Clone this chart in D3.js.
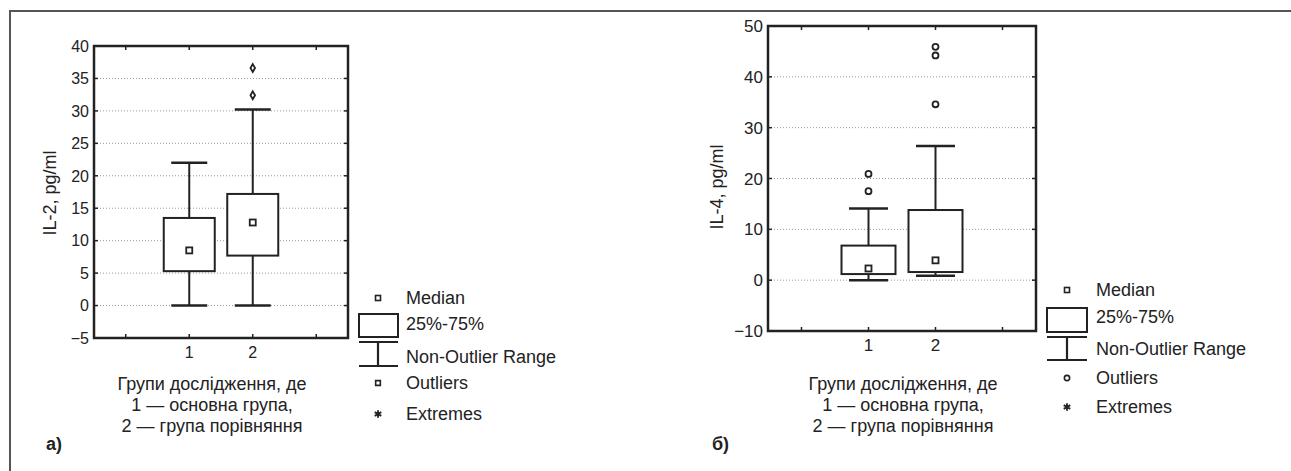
<!DOCTYPE html>
<html>
<head>
<meta charset="utf-8">
<script src="https://cdn.jsdelivr.net/npm/d3@7"></script>
<style>
  body { margin: 0; background: #fff; }
  svg { display: block; }
  .tick-label { font-family: "Liberation Sans", Arial, sans-serif; fill: #222; }
  .narrow { font-family: "Liberation Sans", Arial, sans-serif; fill: #222; }
</style>
</head>
<body>
<svg id="chart" width="1291" height="471"></svg>
<script>
// groups on the x axis
const groups = [1, 2];

// panel a) IL-2
const il2Min = [0, 0];
const il2Q1 = [5.3, 7.7];
const il2Median = [8.5, 12.8];
const il2Q3 = [13.5, 17.2];
const il2Max = [22, 30.2];
const il2Outliers = [[], [32.4, 36.6]];
const il2Ticks = [-5, 0, 5, 10, 15, 20, 25, 30, 35, 40];

// panel б) IL-4
const il4Min = [0, 0.85];
const il4Q1 = [1.2, 1.6];
const il4Median = [2.3, 3.9];
const il4Q3 = [6.8, 13.8];
const il4Max = [14.1, 26.4];
const il4Outliers = [[17.5, 20.9], [34.6, 44.2, 45.9]];
const il4Ticks = [-10, 0, 10, 20, 30, 40, 50];

const legendLabels = ["Median", "25%-75%", "Non-Outlier Range", "Outliers", "Extremes"];
const xTitleLines = ["Групи дослідження, де", "1 — основна група,", "2 — група порівняння"];

const svg = d3.select("#chart");
const ink = "#222";

// outer frame (top + left only)
svg.append("path")
  .attr("d", "M10,471V11H1291")
  .attr("fill", "none")
  .attr("stroke", "#555")
  .attr("stroke-width", 2);

function drawPanel(p) {
  const g = svg.append("g");
  const x = d3.scaleLinear().domain([-0.5, 3.5]).range([p.left, p.right]);
  const y = d3.scaleLinear().domain(p.domain).range([p.bottom, p.top]);
  const xTickPos = [0, 1, 2, 3];

  // dotted grid
  g.selectAll(".grid")
    .data(p.ticks.filter(t => t > p.domain[0] && t < p.domain[1]))
    .enter().append("line")
    .attr("x1", p.left).attr("x2", p.right)
    .attr("y1", d => y(d)).attr("y2", d => y(d))
    .attr("stroke", "#999")
    .attr("stroke-width", 1)
    .attr("stroke-dasharray", "1,2");

  // inner tick marks on all sides
  p.ticks.forEach(t => {
    g.append("line").attr("x1", p.left).attr("x2", p.left + 4)
      .attr("y1", y(t)).attr("y2", y(t)).attr("stroke", ink).attr("stroke-width", 1.5);
    g.append("line").attr("x1", p.right).attr("x2", p.right - 4)
      .attr("y1", y(t)).attr("y2", y(t)).attr("stroke", ink).attr("stroke-width", 1.5);
  });
  xTickPos.forEach(t => {
    g.append("line").attr("x1", x(t)).attr("x2", x(t))
      .attr("y1", p.top).attr("y2", p.top + 4).attr("stroke", ink).attr("stroke-width", 1.5);
    g.append("line").attr("x1", x(t)).attr("x2", x(t))
      .attr("y1", p.bottom).attr("y2", p.bottom - 4).attr("stroke", ink).attr("stroke-width", 1.5);
  });

  // y tick labels
  g.selectAll(".ylab")
    .data(p.ticks)
    .enter().append("text")
    .attr("class", "tick-label")
    .attr("x", p.left - 5)
    .attr("y", d => y(d))
    .attr("dy", "0.36em")
    .attr("text-anchor", "end")
    .style("font-size", p.tickSize + "px")
    .text(d => d < 0 ? "\u2212" + Math.abs(d) : d);

  // x tick labels
  g.selectAll(".xlab")
    .data(groups)
    .enter().append("text")
    .attr("class", "tick-label")
    .attr("x", d => x(d))
    .attr("y", p.bottom + 20)
    .attr("text-anchor", "middle")
    .style("font-size", p.tickSize + "px")
    .text(d => d);

  // y axis title
  g.append("text")
    .attr("class", "tick-label")
    .attr("transform", `translate(${p.yTitleX},${p.yTitleY}) rotate(-90)`)
    .attr("text-anchor", "middle")
    .style("font-size", "18px")
    .text(p.yTitle);

  // boxes
  groups.forEach((grp, i) => {
    const cx = x(grp);
    // whisker
    g.append("line").attr("x1", cx).attr("x2", cx)
      .attr("y1", y(p.min[i])).attr("y2", y(p.max[i]))
      .attr("stroke", ink).attr("stroke-width", 2);
    [p.min[i], p.max[i]].forEach(v => {
      g.append("line").attr("x1", cx - p.capW / 2).attr("x2", cx + p.capW / 2)
        .attr("y1", y(v)).attr("y2", y(v))
        .attr("stroke", ink).attr("stroke-width", 2.5);
    });
    g.append("rect")
      .attr("x", cx - p.boxW / 2).attr("width", p.boxW)
      .attr("y", y(p.q3[i])).attr("height", y(p.q1[i]) - y(p.q3[i]))
      .attr("fill", "#fff").attr("stroke", ink).attr("stroke-width", 2);
    g.append("rect")
      .attr("x", cx - 3).attr("y", y(p.median[i]) - 3)
      .attr("width", 6).attr("height", 6)
      .attr("fill", "#fff").attr("stroke", ink).attr("stroke-width", 1.8);
    p.outliers[i].forEach(v => {
      g.append("path")
        .attr("transform", `translate(${cx},${y(v)})`)
        .attr("d", d3.symbol().type(p.outlierSymbol).size(p.outlierSize)())
        .attr("fill", "#fff").attr("stroke", ink).attr("stroke-width", 1.8);
    });
  });

  // plot frame
  g.append("rect")
    .attr("x", p.left).attr("y", p.top)
    .attr("width", p.right - p.left).attr("height", p.bottom - p.top)
    .attr("fill", "none").attr("stroke", ink).attr("stroke-width", 2.5);

  // x axis title
  xTitleLines.forEach((line, k) => {
    g.append("text")
      .attr("class", "narrow")
      .attr("x", p.xTitleX)
      .attr("y", 390 + k * 21)
      .attr("text-anchor", "middle")
      .style("font-size", "18px")
      .text(line);
  });

  // panel label
  g.append("text")
    .attr("class", "tick-label")
    .attr("x", p.labelX).attr("y", 450)
    .style("font-size", "18px")
    .style("font-weight", "bold")
    .text(p.label);

  // legend
  const L = p.legend;
  const rows = L.rows;
  g.append("rect")
    .attr("x", L.mx - 2.5).attr("y", rows[0] - 2.5).attr("width", 5).attr("height", 5)
    .attr("fill", "#fff").attr("stroke", ink).attr("stroke-width", 1.6);
  g.append("rect")
    .attr("x", L.bx0).attr("width", L.bx1 - L.bx0)
    .attr("y", L.boxTop).attr("height", L.boxBottom - L.boxTop)
    .attr("fill", "#fff").attr("stroke", ink).attr("stroke-width", 2);
  g.append("path")
    .attr("d", `M${L.bx0},${L.wTop}H${L.bx1}M${L.mx},${L.wTop}V${L.wBottom}M${L.bx0},${L.wBottom}H${L.bx1}`)
    .attr("fill", "none").attr("stroke", ink).attr("stroke-width", 2.2);
  g.append("path")
    .attr("transform", `translate(${L.mx},${rows[3]})`)
    .attr("d", d3.symbol().type(L.outlierSymbol).size(L.outlierSize)())
    .attr("fill", "#fff").attr("stroke", ink).attr("stroke-width", 1.6);
  g.append("path")
    .attr("transform", `translate(${L.mx},${rows[4]})`)
    .attr("d", d3.symbol().type(d3.symbolAsterisk).size(40)())
    .attr("fill", "none").attr("stroke", ink).attr("stroke-width", 1.8);

  g.selectAll(".leg")
    .data(legendLabels)
    .enter().append("text")
    .attr("class", "narrow")
    .attr("x", L.tx)
    .attr("y", (d, k) => rows[k])
    .attr("dy", "0.36em")
    .style("font-size", "18px")
    .text(d => d);
}

drawPanel({
  left: 94, right: 348, top: 46, bottom: 338,
  domain: [-5, 40], ticks: il2Ticks, tickSize: 16,
  min: il2Min, q1: il2Q1, median: il2Median, q3: il2Q3, max: il2Max, outliers: il2Outliers,
  boxW: 51, capW: 36, outlierSymbol: d3.symbolDiamond, outlierSize: 18,
  yTitle: "IL-2, pg/ml", yTitleX: 56, yTitleY: 193,
  xTitleX: 212, label: "а)", labelX: 46,
  legend: {
    mx: 378, tx: 406, rows: [298, 324, 357, 383, 414],
    bx0: 359, bx1: 398, boxTop: 314, boxBottom: 337, wTop: 342, wBottom: 366,
    outlierSymbol: d3.symbolSquare, outlierSize: 22
  }
});

drawPanel({
  left: 768, right: 1036, top: 26, bottom: 331,
  domain: [-10, 50], ticks: il4Ticks, tickSize: 17,
  min: il4Min, q1: il4Q1, median: il4Median, q3: il4Q3, max: il4Max, outliers: il4Outliers,
  boxW: 54, capW: 39, outlierSymbol: d3.symbolCircle, outlierSize: 28,
  yTitle: "IL-4, pg/ml", yTitleX: 723, yTitleY: 187,
  xTitleX: 903, label: "б)", labelX: 712,
  legend: {
    mx: 1067, tx: 1096, rows: [290, 317, 349, 378, 407],
    bx0: 1047, bx1: 1087, boxTop: 308, boxBottom: 332, wTop: 337, wBottom: 360,
    outlierSymbol: d3.symbolCircle, outlierSize: 22
  }
});
</script>
</body>
</html>
